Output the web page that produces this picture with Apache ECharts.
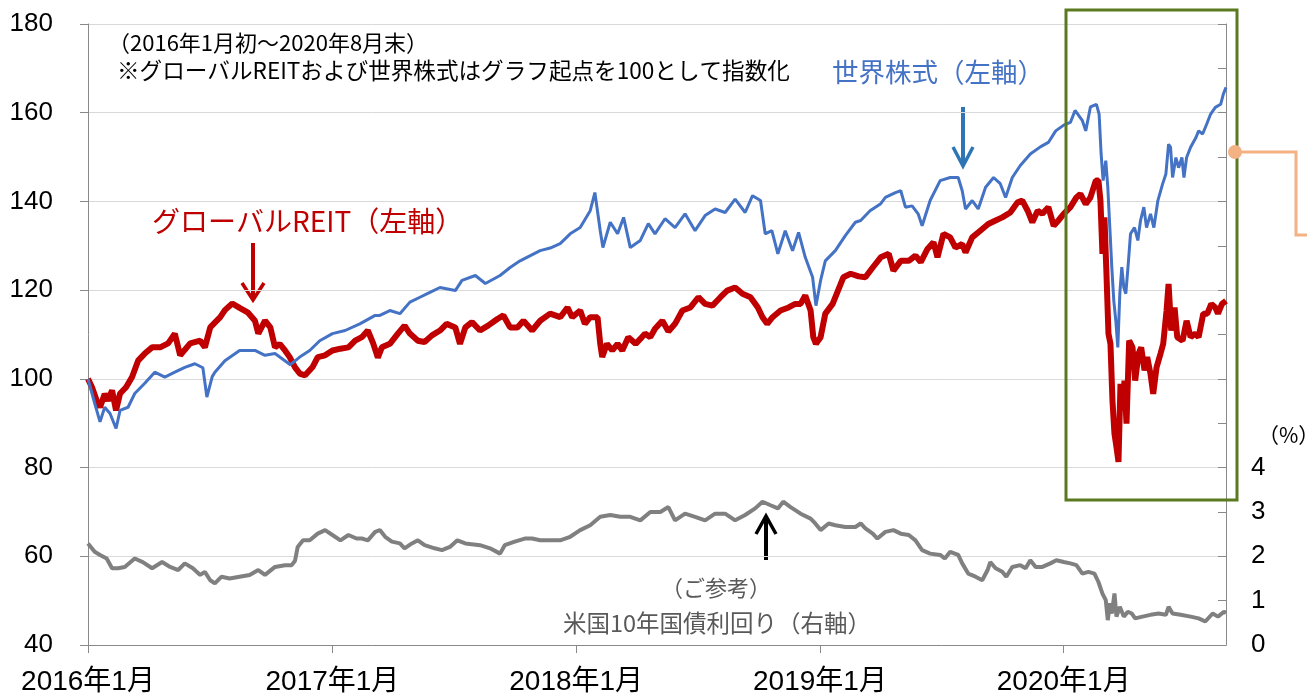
<!DOCTYPE html>
<html>
<head>
<meta charset="utf-8">
<script src="https://cdn.jsdelivr.net/npm/echarts@6/dist/echarts.min.js"></script>
<style>
  html, body { margin: 0; padding: 0; background: #fff; }
  #chart { width: 1307px; height: 697px; }
</style>
</head>
<body>
<div id="chart"></div>
<script>
// 世界株式（左軸）
const equityDates = [
  '2016-01-01','2016-01-11','2016-01-19','2016-01-26','2016-02-03','2016-02-12','2016-02-18','2016-03-01','2016-03-11','2016-03-26',
  '2016-04-10','2016-04-25','2016-05-10','2016-05-25','2016-06-09','2016-06-21','2016-06-27','2016-07-05','2016-07-09','2016-07-24',
  '2016-08-15','2016-09-07','2016-09-22','2016-10-07','2016-10-30','2016-11-13','2016-11-28','2016-12-13',
  '2017-01-01','2017-01-20','2017-02-11','2017-03-06','2017-03-13','2017-03-28','2017-04-12','2017-04-27','2017-05-12','2017-05-27',
  '2017-06-11','2017-07-04','2017-07-14','2017-08-03','2017-08-18','2017-09-09','2017-09-24','2017-10-09','2017-11-08','2017-11-23',
  '2017-12-08','2017-12-23',
  '2018-01-07','2018-01-22','2018-01-29','2018-02-06','2018-02-10','2018-02-21','2018-03-04','2018-03-13','2018-03-23','2018-04-07',
  '2018-04-19','2018-04-29','2018-05-14','2018-05-29','2018-06-13','2018-06-28','2018-07-13','2018-07-28','2018-08-12','2018-08-27',
  '2018-09-11','2018-09-22','2018-10-04','2018-10-11','2018-10-21','2018-10-30','2018-11-10','2018-11-21','2018-11-30','2018-12-10',
  '2018-12-21','2018-12-26',
  '2019-01-02','2019-01-09','2019-01-24','2019-02-08','2019-02-23','2019-03-03','2019-03-17','2019-04-02','2019-04-09','2019-04-24',
  '2019-05-02','2019-05-09','2019-05-19','2019-05-28','2019-06-03','2019-06-15','2019-06-30','2019-07-15','2019-07-27','2019-08-02',
  '2019-08-07','2019-08-17','2019-08-26','2019-09-06','2019-09-18','2019-09-28','2019-10-06','2019-10-16','2019-10-28','2019-11-12',
  '2019-11-27','2019-12-09','2019-12-20',
  '2020-01-01','2020-01-11','2020-01-18','2020-01-29','2020-02-03','2020-02-10','2020-02-19','2020-02-23','2020-02-26','2020-02-29',
  '2020-03-04','2020-03-07','2020-03-10','2020-03-13','2020-03-16','2020-03-19','2020-03-22','2020-03-25','2020-03-28','2020-03-31',
  '2020-04-03','2020-04-07','2020-04-10','2020-04-16','2020-04-21','2020-04-25','2020-04-30','2020-05-04','2020-05-10','2020-05-15',
  '2020-05-21','2020-05-28','2020-06-02','2020-06-06','2020-06-09','2020-06-12','2020-06-17','2020-06-21','2020-06-26','2020-06-29',
  '2020-07-03','2020-07-09','2020-07-17','2020-07-21','2020-07-27','2020-08-02','2020-08-08','2020-08-15','2020-08-23','2020-08-27',
  '2020-08-31'
];
const equityValues = [
  100, 94.5, 90.3, 93.6, 92.2, 88.8, 92.9, 93.6, 96.7, 99,
  101.5, 100.4, 101.5, 102.6, 103.4, 102.5, 95.9, 100.5, 101.5, 104.1,
  106.4, 106.4, 105.3, 105.7, 103.2, 104.9, 106.4, 108.6,
  110.2, 110.9, 112.4, 114.3, 114.3, 115.4, 114.7, 117.3, 118.4, 119.5,
  120.6, 119.9, 122.2, 123.3, 121.5, 123.3, 125.1, 126.6, 128.9, 129.5,
  130.5, 132.7,
  134.1, 137.9, 142, 133.4, 129.6, 135.3, 132.7, 136.4, 129.6, 131.2,
  135, 132.7, 136.1, 134.1, 137.2, 133.4, 136.8, 138.3, 137.5, 140.5,
  137.5, 141.3, 140.2, 132.7, 133.4, 128.2, 133.4, 128.9, 133, 127.4,
  122.9, 116.5,
  122.2, 126.6, 128.9, 132.3, 135.3, 135.7, 137.9, 139.5, 140.9, 142,
  142.4, 138.7, 139, 137.2, 134.5, 140.2, 144.7, 145.4, 145.4, 142.4,
  138.3, 140.2, 138.3, 143.2, 145.4, 144, 140.9, 145.4, 148.1, 150.7,
  152.3, 153.3, 155.9,
  157.2, 157.8, 160.5, 158.2, 155.9, 161.3, 161.9, 159.7, 150.7, 144.7,
  149.2, 143.2, 134.2, 125.2, 117.6, 113.1, 107.1, 119.2, 125.2, 120.6,
  119.2, 126.6, 132.7, 134.1, 131.2, 135.7, 138.7, 134.1, 137.2, 134.1,
  140.2, 143.9, 146.2, 152.9, 152.2, 145.4, 149.9, 147.6, 149.9, 145.4,
  149.9, 152.2, 154.4, 155.9, 155.2, 157.4, 159.7, 161.2, 161.9, 164.2,
  165.7
];

// グローバルREIT（左軸）
const reitDates = [
  '2016-01-01','2016-01-07','2016-01-14','2016-01-19','2016-01-26','2016-01-31','2016-02-06','2016-02-12','2016-02-18','2016-02-27',
  '2016-03-07','2016-03-16','2016-03-26','2016-04-06','2016-04-18','2016-04-30','2016-05-10','2016-05-18','2016-06-02','2016-06-17',
  '2016-06-24','2016-07-02','2016-07-17','2016-07-24','2016-08-04','2016-08-15','2016-08-27','2016-09-07','2016-09-12','2016-09-22',
  '2016-09-30','2016-10-07','2016-10-14','2016-10-22','2016-10-29','2016-11-06','2016-11-13','2016-11-21','2016-12-02','2016-12-10',
  '2016-12-21',
  '2017-01-01','2017-01-13','2017-01-25','2017-02-04','2017-02-14','2017-02-23','2017-03-03','2017-03-10','2017-03-16','2017-03-28',
  '2017-04-09','2017-04-19','2017-04-27','2017-05-09','2017-05-19','2017-05-30','2017-06-11','2017-06-21','2017-07-04','2017-07-11',
  '2017-07-19','2017-07-29','2017-08-10','2017-08-22','2017-09-05','2017-09-14','2017-09-24','2017-10-05','2017-10-14','2017-10-27',
  '2017-11-08','2017-11-23','2017-12-08','2017-12-19','2017-12-26',
  '2018-01-07','2018-01-14','2018-01-22','2018-02-02','2018-02-06','2018-02-09','2018-02-16','2018-02-24','2018-03-04','2018-03-11',
  '2018-03-20','2018-03-31','2018-04-07','2018-04-14','2018-04-22','2018-04-29','2018-05-10','2018-05-19','2018-05-29','2018-06-09',
  '2018-06-21','2018-07-03','2018-07-13','2018-07-24','2018-08-05','2018-08-15','2018-08-27','2018-09-07','2018-09-19','2018-09-30',
  '2018-10-07','2018-10-14','2018-10-22','2018-11-03','2018-11-15','2018-11-25','2018-12-03','2018-12-10','2018-12-18','2018-12-22',
  '2018-12-26',
  '2019-01-02','2019-01-09','2019-01-20','2019-01-28','2019-02-05','2019-02-16','2019-02-28','2019-03-10','2019-03-21','2019-04-02',
  '2019-04-14','2019-04-21','2019-05-02','2019-05-14','2019-05-24','2019-06-01','2019-06-11','2019-06-20','2019-06-26','2019-07-05',
  '2019-07-15','2019-07-23','2019-08-02','2019-08-07','2019-08-17','2019-08-29','2019-09-10','2019-09-21','2019-10-01','2019-10-13',
  '2019-10-24','2019-10-31','2019-11-08','2019-11-15','2019-11-23','2019-11-30','2019-12-09','2019-12-17','2019-12-24',
  '2020-01-01','2020-01-11','2020-01-20','2020-01-26','2020-02-03','2020-02-10','2020-02-18','2020-02-22','2020-02-25','2020-02-28',
  '2020-03-02','2020-03-05','2020-03-08','2020-03-11','2020-03-14','2020-03-17','2020-03-20','2020-03-23','2020-03-26','2020-03-29',
  '2020-04-01','2020-04-04','2020-04-08','2020-04-13','2020-04-17','2020-04-22','2020-04-26','2020-05-01','2020-05-05','2020-05-10',
  '2020-05-14','2020-05-19','2020-05-25','2020-05-29','2020-06-03','2020-06-06','2020-06-10','2020-06-15','2020-06-19','2020-06-27',
  '2020-07-03','2020-07-09','2020-07-16','2020-07-21','2020-07-28','2020-08-03','2020-08-09','2020-08-15','2020-08-19','2020-08-25',
  '2020-08-31'
];
const reitValues = [
  100, 98.1, 95.1, 93.6, 96.6, 95.1, 97.4, 92.9, 96.7, 98.1,
  100.4, 104.1, 105.7, 107.1, 107.1, 108, 110.2, 105.3, 108, 108.6,
  107.1, 111.6, 113.9, 115.5, 117, 116, 115, 113.1, 110.2, 113.1,
  111.6, 107.1, 107.9, 106.4, 104.9, 102.6, 101.2, 100.8, 102.6, 104.9,
  105.3,
  106.4, 106.8, 107.1, 108.6, 109.4, 110.9, 108, 104.8, 107.1, 107.9,
  110.2, 112, 110.2, 108.6, 108.3, 109.8, 110.9, 112.4, 111.6, 107.9,
  111.6, 112.8, 110.9, 112, 113.5, 114.3, 111.6, 111.6, 113.1, 110.9,
  113.1, 114.7, 113.9, 116.1, 113.9,
  115.4, 112.4, 113.9, 113.9, 107.9, 104.9, 107.9, 106.4, 107.9, 106.4,
  109.4, 107.9, 109, 110.2, 109.4, 111.3, 113.1, 110.7, 112.4, 115.4,
  116.1, 118.4, 116.9, 116.5, 118.4, 119.9, 120.6, 119.2, 118.4, 116.1,
  113.9, 112.4, 113.9, 115.4, 116.1, 116.9, 116.9, 118.8, 115.4, 109.4,
  107.9,
  109.4, 114.7, 116.9, 119.9, 122.9, 123.7, 123.1, 122.9, 125.1, 127.4,
  128.2, 124.4, 126.6, 126.6, 127.8, 126.3, 129.3, 130.8, 127.4, 132.7,
  131.9, 129.6, 130.4, 128.5, 131.9, 133.4, 134.9, 135.7, 136.4, 137.5,
  139.8, 140.2, 137.9, 135.3, 137.9, 137.2, 138.7, 134.5, 135.7,
  137.2, 138.7, 140.9, 141.7, 139.4, 140.9, 144.7, 144.7, 140.2, 128.2,
  136.4, 123.7, 110.2, 107.9, 95.1, 87.6, 84.6, 81.3, 98.9, 92.9,
  99.6, 89.9, 108.6, 107.1, 99.6, 105.7, 107.1, 101.9, 104.9, 101.1,
  96.6, 102.6, 105.7, 107.9, 115.4, 121.4, 110.9, 116.1, 109.4, 108.6,
  113.1, 109.4, 110.2, 109.4, 114.7, 114.7, 116.9, 116.1, 114.7, 116.9,
  117.6
];

// 米国10年国債利回り（右軸、%）
const yieldDates = [
  '2016-01-01','2016-01-11','2016-01-19','2016-01-29','2016-02-06','2016-02-15','2016-02-25','2016-03-11','2016-03-23','2016-04-06',
  '2016-04-21','2016-05-03','2016-05-15','2016-05-25','2016-06-06','2016-06-17','2016-06-24','2016-07-02','2016-07-09','2016-07-19',
  '2016-07-31','2016-08-15','2016-08-30','2016-09-12','2016-09-22','2016-10-07','2016-10-22','2016-11-01','2016-11-06','2016-11-10',
  '2016-11-18','2016-11-28','2016-12-10','2016-12-21',
  '2017-01-01','2017-01-13','2017-01-25','2017-02-06','2017-02-14','2017-02-23','2017-03-06','2017-03-13','2017-03-21','2017-03-31',
  '2017-04-12','2017-04-19','2017-04-30','2017-05-09','2017-05-19','2017-06-03','2017-06-14','2017-06-26','2017-07-07','2017-07-19',
  '2017-08-10','2017-08-25','2017-09-09','2017-09-16','2017-10-01','2017-10-16','2017-10-27','2017-11-08','2017-11-23','2017-12-08',
  '2017-12-23',
  '2018-01-07','2018-01-22','2018-02-06','2018-02-21','2018-03-08','2018-03-23','2018-04-07','2018-04-22','2018-05-07','2018-05-19',
  '2018-05-29','2018-06-13','2018-06-28','2018-07-13','2018-07-28','2018-08-12','2018-08-27','2018-09-11','2018-09-26','2018-10-07',
  '2018-10-19','2018-10-30','2018-11-07','2018-11-18','2018-12-03','2018-12-18','2018-12-25',
  '2019-01-02','2019-01-14','2019-01-24','2019-02-08','2019-02-23','2019-03-03','2019-03-10','2019-03-21','2019-03-28','2019-04-09',
  '2019-04-21','2019-05-02','2019-05-14','2019-05-24','2019-06-03','2019-06-15','2019-06-30','2019-07-07','2019-07-15','2019-07-27',
  '2019-08-02','2019-08-11','2019-08-22','2019-09-01','2019-09-09','2019-09-13','2019-09-21','2019-10-01','2019-10-07','2019-10-16',
  '2019-10-28','2019-11-05','2019-11-12','2019-11-20','2019-11-30','2019-12-12','2019-12-21',
  '2020-01-01','2020-01-11','2020-01-20','2020-01-29','2020-02-07','2020-02-16','2020-02-22','2020-02-28','2020-03-04','2020-03-07',
  '2020-03-10','2020-03-13','2020-03-17','2020-03-20','2020-03-25','2020-03-31','2020-04-06','2020-04-12','2020-04-17','2020-04-28',
  '2020-05-10','2020-05-22','2020-06-02','2020-06-06','2020-06-12','2020-06-24','2020-07-09','2020-07-21','2020-07-31','2020-08-11',
  '2020-08-19','2020-08-28','2020-08-31'
];
const yieldValues = [
  2.29, 2.1, 2.03, 1.95, 1.73, 1.73, 1.76, 1.95, 1.87, 1.73,
  1.87, 1.76, 1.69, 1.84, 1.73, 1.58, 1.65, 1.46, 1.39, 1.54,
  1.5, 1.54, 1.58, 1.69, 1.58, 1.76, 1.8, 1.8, 1.9, 2.21,
  2.36, 2.36, 2.51, 2.59,
  2.48, 2.36, 2.48, 2.4, 2.4, 2.36, 2.55, 2.59, 2.44, 2.33,
  2.29, 2.18, 2.29, 2.36, 2.25, 2.18, 2.14, 2.21, 2.36, 2.29,
  2.25, 2.18, 2.06, 2.25, 2.33, 2.4, 2.4, 2.36, 2.36, 2.36,
  2.44,
  2.59, 2.7, 2.89, 2.93, 2.89, 2.89, 2.81, 3.0, 3.0, 3.11,
  2.81, 2.96, 2.89, 2.81, 2.96, 2.96, 2.81, 2.93, 3.08, 3.23,
  3.15, 3.08, 3.23, 3.11, 2.96, 2.85, 2.74,
  2.59, 2.74, 2.7, 2.66, 2.66, 2.74, 2.63, 2.51, 2.4, 2.55,
  2.59, 2.51, 2.48, 2.36, 2.14, 2.06, 2.03, 1.95, 2.1, 2.03,
  1.84, 1.61, 1.54, 1.46, 1.69, 1.87, 1.73, 1.65, 1.54, 1.76,
  1.8, 1.73, 1.91, 1.76, 1.76, 1.84, 1.91,
  1.87, 1.84, 1.8, 1.61, 1.65, 1.61, 1.42, 1.16, 1.01, 0.56,
  0.94, 0.71, 1.16, 0.64, 0.86, 0.64, 0.75, 0.71, 0.6, 0.64,
  0.68, 0.71, 0.68, 0.86, 0.71, 0.68, 0.64, 0.6, 0.53, 0.71,
  0.64, 0.75, 0.72
];

// axes
const leftMin = 40, leftMax = 180, leftStep = 20;
const rightMin = 0, rightMax = 14, rightStep = 1, rightLabelMax = 4;
const xStart = new Date(2016, 0, 1).getTime();
const xEnd = new Date(2020, 7, 31).getTime();

const zip = (dates, values) => dates.map((d, i) => [d, values[i]]);

const numFont = '"Liberation Sans", Arial, "Noto Sans CJK JP", sans-serif';
const jpFont = '"Noto Sans CJK JP", sans-serif';
const DAY = 24 * 3600 * 1000;

const chart = echarts.init(document.getElementById('chart'));

chart.setOption({
  backgroundColor: '#ffffff',
  animation: false,
  grid: { left: 88, right: 81, top: 24, bottom: 52 },
  xAxis: {
    type: 'time',
    min: xStart,
    max: xEnd,
    minInterval: 365 * DAY,
    maxInterval: 366 * DAY,
    axisLine: { lineStyle: { color: '#898989', width: 1 } },
    axisTick: { show: true, length: 8, lineStyle: { color: '#898989' } },
    axisLabel: {
      fontFamily: numFont,
      fontSize: 28,
      color: '#000',
      margin: 23,
      hideOverlap: false,
      formatter: function (v) {
        const d = new Date(v);
        return d.getFullYear() + '年' + (d.getMonth() + 1) + '月';
      }
    },
    splitLine: { show: false }
  },
  yAxis: [
    {
      type: 'value',
      min: leftMin,
      max: leftMax,
      interval: leftStep,
      axisLine: { show: true, lineStyle: { color: '#898989' } },
      axisTick: { show: true, length: 8, lineStyle: { color: '#898989' } },
      axisLabel: { fontFamily: numFont, fontSize: 26, color: '#000', margin: 35 },
      splitLine: { lineStyle: { color: '#d9d9d9', width: 1 } }
    },
    {
      type: 'value',
      position: 'right',
      min: rightMin,
      max: rightMax,
      interval: rightStep,
      axisLine: { show: true, lineStyle: { color: '#898989' } },
      axisTick: { show: true, inside: true, length: 8, lineStyle: { color: '#898989' } },
      axisLabel: {
        fontFamily: numFont,
        fontSize: 26,
        color: '#000',
        margin: 25,
        formatter: function (v) { return v <= rightLabelMax ? String(v) : ''; }
      },
      splitLine: { show: false }
    }
  ],
  series: [
    {
      name: '米国10年国債利回り',
      type: 'line',
      yAxisIndex: 1,
      showSymbol: false,
      lineStyle: { color: '#808080', width: 4 },
      data: zip(yieldDates, yieldValues)
    },
    {
      name: 'グローバルREIT',
      type: 'line',
      showSymbol: false,
      lineStyle: { color: '#c00000', width: 6 },
      data: zip(reitDates, reitValues)
    },
    {
      name: '世界株式',
      type: 'line',
      showSymbol: false,
      lineStyle: { color: '#4472c4', width: 3 },
      data: zip(equityDates, equityValues)
    }
  ],
  graphic: [
    { type: 'text', left: 108, top: 32, style: { text: '（2016年1月初～2020年8月末）', font: '22px ' + jpFont, fill: '#000' } },
    { type: 'text', left: 117, top: 59, style: { text: '※グローバルREITおよび世界株式はグラフ起点を100として指数化', font: '22.6px ' + jpFont, fill: '#000' } },
    { type: 'text', left: 832, top: 59, style: { text: '世界株式（左軸）', font: '26.5px ' + jpFont, fill: '#4472c4' } },
    { type: 'text', left: 152, top: 207, style: { text: 'グローバルREIT（左軸）', font: '28px ' + jpFont, fill: '#c00000' } },
    { type: 'text', x: 716, y: 588, style: { text: '（ご参考）', font: '22px ' + jpFont, fill: '#595959', align: 'center', verticalAlign: 'middle' } },
    { type: 'text', x: 717, y: 623, style: { text: '米国10年国債利回り（右軸）', font: '23.5px ' + jpFont, fill: '#595959', align: 'center', verticalAlign: 'middle' } },
    { type: 'text', left: 1258, top: 425, style: { text: '（%）', font: '21px ' + jpFont, fill: '#000' } },
    // arrows
    { type: 'polyline', shape: { points: [[963, 107], [963, 165]] }, style: { stroke: '#2e75b6', lineWidth: 4 } },
    { type: 'polyline', shape: { points: [[953, 147], [963, 166], [973, 147]] }, style: { stroke: '#2e75b6', lineWidth: 3.5, fill: null } },
    { type: 'polyline', shape: { points: [[253, 243], [253, 299]] }, style: { stroke: '#c00000', lineWidth: 4 } },
    { type: 'polyline', shape: { points: [[242, 283], [253, 300], [264, 283]] }, style: { stroke: '#c00000', lineWidth: 3.5, fill: null } },
    { type: 'polyline', shape: { points: [[766, 517], [766, 560]] }, style: { stroke: '#000', lineWidth: 4 } },
    { type: 'polyline', shape: { points: [[756, 534], [766, 516], [776, 534]] }, style: { stroke: '#000', lineWidth: 3.5, fill: null } },
    // highlight box and callout
    { type: 'rect', z: 100, shape: { x: 1066, y: 10, width: 171, height: 490 }, style: { stroke: '#5b7a1f', lineWidth: 3, fill: null } },
    { type: 'polyline', z: 100, shape: { points: [[1235, 152], [1296, 152], [1296, 235], [1310, 235]] }, style: { stroke: '#f4b183', lineWidth: 3, fill: null } },
    { type: 'circle', z: 101, shape: { cx: 1235, cy: 152, r: 7 }, style: { fill: '#f4b183' } }
  ]
});
</script>
</body>
</html>
